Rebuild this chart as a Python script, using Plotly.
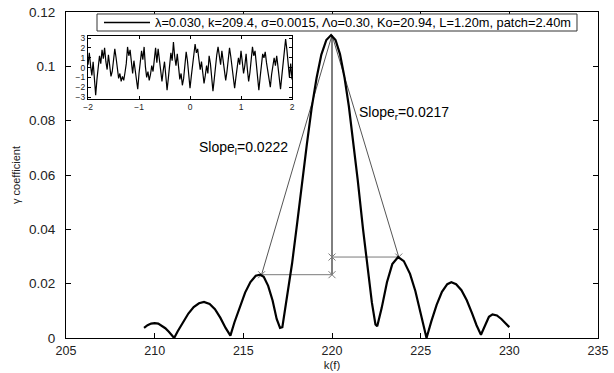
import numpy as np
import plotly.graph_objects as go

# Spectral response of the rough patch: wavenumber k(f) vs. gamma coefficient
k_f = [209.40, 209.6, 209.8, 210.0, 210.2, 210.4, 210.6, 210.8, 211.0, 211.1,
       211.3, 211.6, 211.9, 212.2, 212.5, 212.78, 213.1, 213.4, 213.7, 214.0, 214.27,
       214.5, 214.8, 215.1, 215.4, 215.7, 215.95, 216.15, 216.4, 216.65, 216.88, 217.07, 217.2,
       217.45, 217.75, 218.03, 218.3, 218.58, 218.85, 219.13, 219.4, 219.68, 219.95,
       220.2, 220.45, 220.7, 220.95, 221.2, 221.45, 221.75, 222.0, 222.25, 222.45, 222.55,
       222.8, 223.1, 223.4, 223.73, 224.05, 224.4, 224.7, 225.0, 225.33,
       225.6, 225.9, 226.2, 226.5, 226.73, 227.0, 227.3, 227.6, 227.9, 228.15, 228.4,
       228.65, 228.85, 229.05, 229.3, 229.55, 229.8, 230.0]
gamma = [0.0037, 0.0047, 0.0053, 0.0055, 0.0053, 0.0046, 0.0036, 0.0023, 0.0008, 0.0000,
         0.0025, 0.0060, 0.0090, 0.0114, 0.0128, 0.0133, 0.0125, 0.0106, 0.0075, 0.0037, 0.0009,
         0.0058, 0.0114, 0.0167, 0.0206, 0.0229, 0.0233, 0.0225, 0.0192, 0.0138, 0.0070, 0.0037, 0.0040,
         0.0140, 0.0275, 0.0420, 0.0570, 0.0712, 0.0845, 0.0957, 0.1043, 0.1097, 0.1115,
         0.1097, 0.1045, 0.0961, 0.0853, 0.0725, 0.0582, 0.0401, 0.0255, 0.0130, 0.0050, 0.0043,
         0.0110, 0.0205, 0.0272, 0.0298, 0.0283, 0.0236, 0.0173, 0.0095, 0.0000,
         0.0061, 0.0122, 0.0170, 0.0198, 0.0205, 0.0198, 0.0176, 0.0139, 0.0091, 0.0047, 0.0012,
         0.0050, 0.0078, 0.0087, 0.0083, 0.0070, 0.0053, 0.0040]

# Main-lobe peak and first side-lobe levels with the measured slopes
peak_k = 220.0
peak_val = 0.1115
side_l_val = 0.0233
side_r_val = 0.0298
slope_l = 0.0222
slope_r = 0.0217
side_l_k = peak_k - (peak_val - side_l_val) / slope_l
side_r_k = peak_k + (peak_val - side_r_val) / slope_r

# Surface profile shown in the inset
profile = [0.3, 1.5, 0.2, -0.8, 0.6, -1.6, -2.8, -1.2, 0.5, 1.2, 0.4, 1.8, 0.9, 2.0, 0.6, -0.2, 1.3, 0.2, -0.9, -0.4,
           0.8, 1.9, 1.0, -0.2, -1.1, -0.6, -1.4, -0.9, -1.3, -0.5, 0.4, 2.1, 1.2, 1.8, 0.3, -0.6, 0.7, -0.3, -1.2, -2.2,
           -0.6, 0.9, 1.7, 0.8, 2.1, 0.1, -1.0, -0.4, -1.3, -0.7, 0.2, -0.4, 1.1, 2.0, 0.5, 1.9, 0.8, -0.5, -1.4, -0.3,
           0.6, -0.8, -2.3, -1.1, 0.3, 1.5, 0.7, 2.6, 1.1, 0.2, 1.4, -0.3, -1.2, -0.6, -1.8, -1.1, 0.5, 1.6, 0.7, -0.4,
           -2.1, -0.9, 0.4, 1.0, 2.4, 1.5, 1.9, 0.8, -0.2, 0.6, -0.7, -1.6, -0.8, 0.2, -0.6, 1.2, 0.4, -0.9, -2.4, -1.2,
           0.5, 1.3, 2.1, 1.0, 0.3, 1.7, 0.6, -0.5, -1.3, -0.4, 0.9, 2.0, 1.1, 0.2, -0.8, -2.1, -1.0, -0.1, 1.0, 0.3,
           1.7, 0.6, -0.6, 0.2, 1.4, -0.2, -1.4, -0.5, 0.8, 2.1, 1.2, 1.7, 0.4, -0.9, -2.3, -1.0, 0.4, 1.4, 1.0, 1.6,
           0.5, -0.4, -1.2, -2.0, -0.7, 0.3, 1.0, 0.2, 1.2, 0.1, -1.0, -2.2, -0.9, 0.6, 1.5, 2.9, 1.8, 0.2, -1.0, 0.4,
           -1.2]
profile_x = np.linspace(-2, 2, len(profile))

legend_text = "λ=0.030, k=209.4, σ=0.0015, Λo=0.30, Ko=20.94, L=1.20m, patch=2.40m"

FONT = "Liberation Sans, Arial, sans-serif"
GREY = "#7a7a7a"

fig = go.Figure()

# Slope construction lines
fig.add_trace(go.Scatter(x=[side_l_k, peak_k], y=[side_l_val, peak_val], mode="lines",
                         line=dict(color="#555555", width=1), hoverinfo="skip"))
fig.add_trace(go.Scatter(x=[peak_k, side_r_k], y=[peak_val, side_r_val], mode="lines",
                         line=dict(color="#555555", width=1), hoverinfo="skip"))
fig.add_trace(go.Scatter(x=[peak_k, peak_k], y=[side_l_val, peak_val], mode="lines",
                         line=dict(color="black", width=1), hoverinfo="skip"))
fig.add_trace(go.Scatter(x=[side_l_k, peak_k], y=[side_l_val, side_l_val], mode="lines+markers",
                         line=dict(color=GREY, width=1),
                         marker=dict(symbol="x-thin", size=7, line=dict(color=GREY, width=1)),
                         hoverinfo="skip"))
fig.add_trace(go.Scatter(x=[peak_k, side_r_k], y=[side_r_val, side_r_val], mode="lines+markers",
                         line=dict(color=GREY, width=1),
                         marker=dict(symbol="x-thin", size=7, line=dict(color=GREY, width=1)),
                         hoverinfo="skip"))

# Main response curve
fig.add_trace(go.Scatter(x=k_f, y=gamma, mode="lines", name=legend_text,
                         line=dict(color="black", width=2.2)))

# Inset surface profile
fig.add_trace(go.Scatter(x=profile_x, y=profile, mode="lines", xaxis="x2", yaxis="y2",
                         line=dict(color="black", width=1.2)))

fig.add_annotation(x=221.4, y=0.0827, xanchor="left", yanchor="middle", showarrow=False,
                   text="Slope<sub>r</sub>=0.0217", font=dict(family=FONT, size=14, color="black"))
fig.add_annotation(x=212.4, y=0.0698, xanchor="left", yanchor="middle", showarrow=False,
                   text="Slope<sub>l</sub>=0.0222", font=dict(family=FONT, size=14, color="black"))

# Legend box (line sample + parameter text) in axis-domain coordinates
fig.add_shape(type="rect", xref="x domain", yref="y domain", x0=0.0583, x1=0.9605, y0=0.9417, y1=0.9939,
              line=dict(color="#333333", width=1), fillcolor="white", layer="above")
fig.add_shape(type="line", xref="x domain", yref="y domain", x0=0.0714, x1=0.1579, y0=0.9678, y1=0.9678,
              line=dict(color="black", width=1.4), layer="above")
fig.add_annotation(xref="x domain", yref="y domain", x=0.1635, y=0.9678, xanchor="left", yanchor="middle",
                   showarrow=False, text=legend_text, font=dict(family=FONT, size=12.8, color="black"))

axis_common = dict(showline=True, linecolor="black", linewidth=1, mirror="ticks",
                   ticks="inside", tickcolor="black", showgrid=False, zeroline=False, automargin=False)

fig.update_layout(
    width=614, height=373,
    margin=dict(l=66, r=16, t=12, b=35),
    paper_bgcolor="white", plot_bgcolor="white",
    font=dict(family=FONT, size=13.5, color="#222222"),
    showlegend=False,
    xaxis=dict(range=[205, 235], dtick=5, tick0=205, ticklen=5, ticklabelstandoff=1,
               tickfont=dict(size=12.5),
               title=dict(text="k(f)", standoff=3, font=dict(size=11.5)), **axis_common),
    yaxis=dict(range=[0, 0.12], dtick=0.02, tick0=0, ticklen=5, ticklabelstandoff=7,
               title=dict(text="γ coefficient", standoff=6, font=dict(size=11)), **axis_common),
    xaxis2=dict(domain=[0.0414, 0.4248], anchor="y2", range=[-2, 2], dtick=1, ticklen=3,
                tickfont=dict(size=8.5), **axis_common),
    yaxis2=dict(domain=[0.733, 0.926], anchor="x2", range=[-3.2, 3.2], dtick=1, ticklen=3,
                tickfont=dict(size=8.5), **axis_common),
)

fig.write_html("out.html")
